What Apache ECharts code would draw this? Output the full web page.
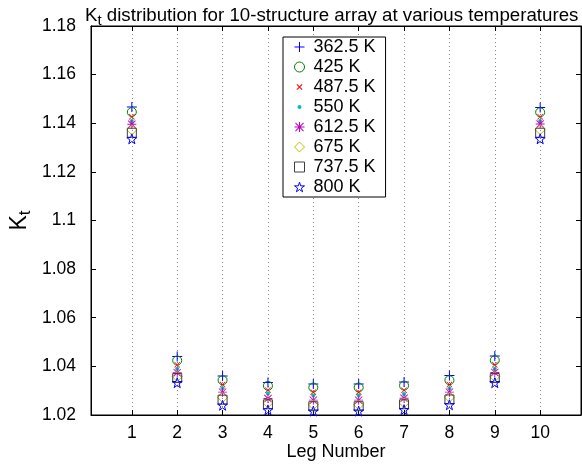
<!DOCTYPE html>
<html>
<head>
<meta charset="utf-8">
<script src="https://cdn.jsdelivr.net/npm/echarts@6/dist/echarts.min.js"></script>
<style>html,body{margin:0;padding:0;background:#fff}#c{width:582px;height:465px}</style>
</head>
<body>
<div id="c"></div>
<script>
// ---- data ----
const legs = [1, 2, 3, 4, 5, 6, 7, 8, 9, 10];
const temps = ['362.5 K', '425 K', '487.5 K', '550 K', '612.5 K', '675 K', '737.5 K', '800 K'];
const k_362_5 = [1.1467, 1.0441, 1.0360, 1.0334, 1.0328, 1.0328, 1.0336, 1.0362, 1.0443, 1.1465];
const k_425   = [1.1446, 1.0424, 1.0343, 1.0320, 1.0313, 1.0313, 1.0321, 1.0343, 1.0425, 1.1445];
const k_487_5 = [1.1427, 1.0407, 1.0325, 1.0302, 1.0294, 1.0294, 1.0302, 1.0325, 1.0407, 1.1427];
const k_550   = [1.1409, 1.0390, 1.0310, 1.0288, 1.0280, 1.0280, 1.0286, 1.0309, 1.0390, 1.1409];
const k_612_5 = [1.1396, 1.0374, 1.0294, 1.0268, 1.0261, 1.0261, 1.0269, 1.0294, 1.0375, 1.1397];
const k_675   = [1.1373, 1.0358, 1.0272, 1.0250, 1.0242, 1.0242, 1.0250, 1.0273, 1.0358, 1.1374];
const k_737_5 = [1.1361, 1.0352, 1.0263, 1.0244, 1.0236, 1.0236, 1.0244, 1.0264, 1.0352, 1.1361];
const k_800   = [1.1336, 1.0333, 1.0240, 1.0221, 1.0216, 1.0216, 1.0222, 1.0242, 1.0333, 1.1336];
const yTicks = [1.02, 1.04, 1.06, 1.08, 1.1, 1.12, 1.14, 1.16, 1.18];
const seriesValues = [k_362_5, k_425, k_487_5, k_550, k_612_5, k_675, k_737_5, k_800];

// ---- marker styles ----
const FONT = 'Liberation Sans, Arial, Helvetica, sans-serif';
const PLUS = 'path://M45,0H55V45H100V55H55V100H45V55H0V45H45Z';
const XMARK = 'path://M0,9L9,0L100,91L91,100Z M91,0L100,9L9,100L0,91Z';
const ASTER = 'path://M45,0H55V45H100V55H55V100H45V55H0V45H45Z M6,13L13,6L94,87L87,94Z M87,6L94,13L13,94L6,87Z';
const STAR = 'path://M50,0L61.2,34.5L97.6,34.5L68.2,55.9L79.4,90.5L50,69.1L20.6,90.5L31.8,55.9L2.4,34.5L38.8,34.5Z';
const BOUND = ' M0,0L0.01,0Z M100,100L99.99,100Z';
const DOT = 'path://M50,30A20,20 0 1 1 49.99,30Z';
const XSMALL = 'path://M20,27L27,20L80,73L73,80Z M73,20L80,27L27,80L20,73Z';
const styles = [
  {symbol: PLUS, size: 10, fill: '#0000ff', stroke: 'none', bw: 0},
  {symbol: 'circle', size: 9, fill: 'rgba(0,0,0,0)', stroke: '#008000', bw: 1},
  {symbol: XMARK, size: 6, fill: '#ff0000', stroke: 'none', bw: 0, legendIcon: XSMALL + BOUND},
  {symbol: 'circle', size: 4, fill: '#00bfbf', stroke: 'none', bw: 0, legendIcon: DOT + BOUND},
  {symbol: ASTER, size: 9, fill: '#bf00bf', stroke: 'none', bw: 0},
  {symbol: 'diamond', size: 10, fill: 'rgba(0,0,0,0)', stroke: '#bfbf00', bw: 1},
  {symbol: 'rect', size: 9, fill: 'rgba(0,0,0,0)', stroke: '#404040', bw: 1},
  {symbol: STAR, size: 10, fill: 'rgba(0,0,0,0)', stroke: '#0000ff', bw: 1}
];

const series = temps.map((name, i) => ({
  name: name,
  type: 'scatter',
  xAxisIndex: 0,
  yAxisIndex: 0,
  symbol: styles[i].symbol,
  symbolSize: styles[i].size,
  itemStyle: {color: styles[i].fill, borderColor: styles[i].stroke, borderWidth: styles[i].bw, opacity: 1},
  emphasis: {disabled: true},
  data: legs.map((l, j) => [l, seriesValues[i][j]])
}));

const legendData = temps.map((name, i) => {
  const d = {name: name, itemStyle: {borderWidth: styles[i].bw}};
  if (styles[i].legendIcon) d.icon = styles[i].legendIcon;
  return d;
});

const chart = echarts.init(document.getElementById('c'), null, {renderer: 'canvas'});
chart.setOption({
  animation: false,
  backgroundColor: '#fff',
  textStyle: {fontFamily: FONT},
  title: {
    text: '{k|K}{s|t}{n| distribution for 10-structure array at various temperatures}',
    left: 80, top: 0,
    textStyle: {
      fontWeight: 'normal',
      rich: {
        k: {fontSize: 18.7, fontFamily: FONT, fontWeight: 'normal', color: '#000', lineHeight: 22},
        s: {fontSize: 15, fontFamily: FONT, fontWeight: 'normal', color: '#000', lineHeight: 22, padding: [9, 0, 0, 0]},
        n: {fontSize: 18.7, fontFamily: FONT, fontWeight: 'normal', color: '#000', lineHeight: 22}
      }
    }
  },
  legend: {
    orient: 'vertical',
    left: 283, top: 37,
    data: legendData,
    itemWidth: 10, itemHeight: 10,
    itemGap: 0,
    padding: [0, 10, 0, 11],
    borderColor: '#000', borderWidth: 1,
    backgroundColor: '#fff',
    selectedMode: false,
    itemStyle: {borderWidth: 1},
    textStyle: {fontSize: 18, fontFamily: FONT, color: '#000', lineHeight: 20, padding: [0, 0, 0, 4]}
  },
  grid: {left: 91, top: 26, width: 490, height: 389, show: true, borderColor: '#000', borderWidth: 1, containLabel: false, outerBoundsMode: 'none'},
  xAxis: [{
    type: 'value', min: 0.1, max: 10.9, position: 'bottom',
    name: 'Leg Number', nameLocation: 'middle', nameGap: 28, nameMoveOverlap: false,
    nameTextStyle: {fontSize: 18, fontFamily: FONT, color: '#000', verticalAlign: 'top'},
    axisLine: {show: true, onZero: false, lineStyle: {color: '#000', width: 1}},
    axisTick: {show: true, inside: true, length: 5, customValues: legs, lineStyle: {color: '#000'}},
    axisLabel: {show: true, customValues: legs, fontSize: 17.5, fontFamily: FONT, color: '#000', margin: 9},
    splitLine: {show: true, lineStyle: {color: '#888', type: [1, 3], width: 1}}
  }, {
    type: 'value', min: 0.1, max: 10.9, position: 'top',
    axisLine: {show: true, onZero: false, lineStyle: {color: '#000'}},
    axisTick: {show: true, inside: true, length: 5, customValues: legs, lineStyle: {color: '#000'}},
    axisLabel: {show: false},
    splitLine: {show: false}
  }],
  yAxis: [{
    type: 'value', min: 1.02, max: 1.18, interval: 0.02, position: 'left',
    name: '{k|K}{s|t}', nameLocation: 'middle', nameGap: 57, nameRotate: 90, nameMoveOverlap: false,
    nameTextStyle: {
      verticalAlign: 'bottom',
      rich: {
        k: {fontSize: 23, fontFamily: FONT, color: '#000', lineHeight: 28},
        s: {fontSize: 17, fontFamily: FONT, color: '#000', lineHeight: 28, padding: [11, 0, 0, 0]}
      }
    },
    axisLine: {show: true, onZero: false, lineStyle: {color: '#000', width: 1}},
    axisTick: {show: true, inside: true, length: 5, lineStyle: {color: '#000'}},
    axisLabel: {show: true, fontSize: 17.5, fontFamily: FONT, color: '#000', margin: 15},
    splitLine: {show: false}
  }, {
    type: 'value', min: 1.02, max: 1.18, interval: 0.02, position: 'right',
    axisLine: {show: true, onZero: false, lineStyle: {color: '#000'}},
    axisTick: {show: true, inside: true, length: 5, lineStyle: {color: '#000'}},
    axisLabel: {show: false},
    splitLine: {show: false}
  }],
  series: series
});
</script>
</body>
</html>
